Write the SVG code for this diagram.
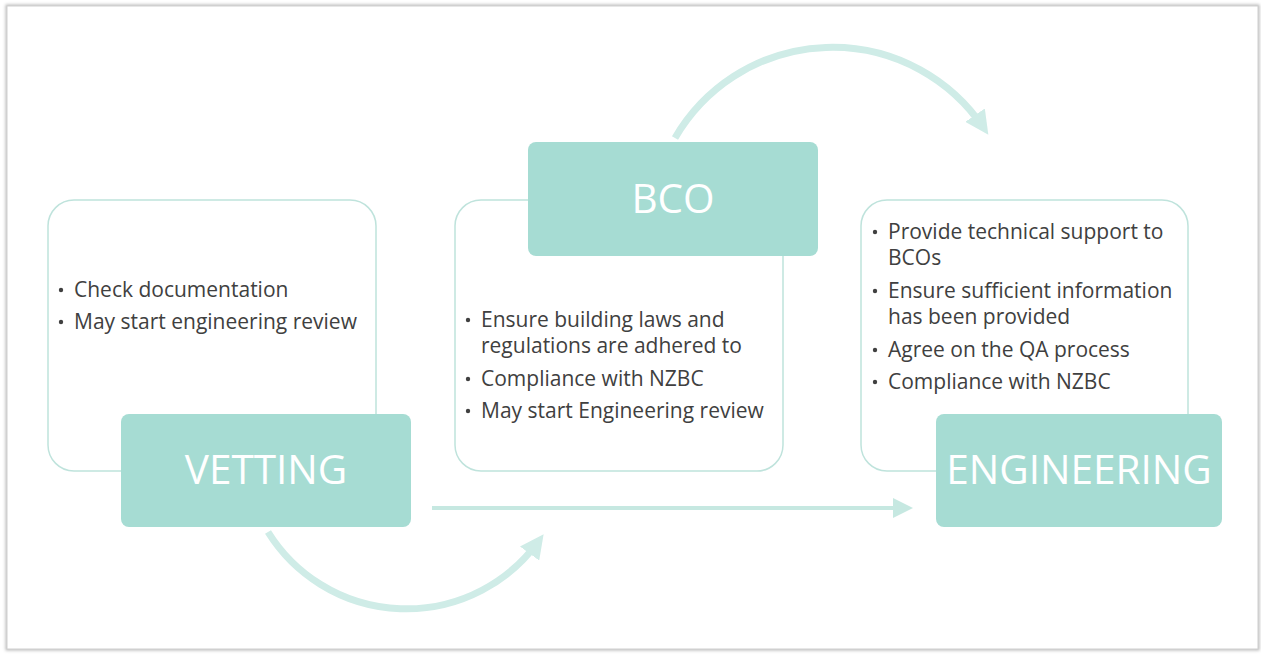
<svg xmlns="http://www.w3.org/2000/svg" width="1261" height="654" viewBox="0 0 1261 654">
  <defs>
    <style>
      .panel { fill: #ffffff; stroke: #bfe3dc; stroke-width: 1.5; }
      .head { fill: #a6dcd3; }
      .title { font-family: "Open Sans", "Noto Sans", sans-serif; fill: #ffffff; font-size: 40.5px; text-anchor: middle; }
      .item { font-family: "Open Sans", "Noto Sans", sans-serif; fill: #404040; font-size: 21px; }
      .dot { fill: #404040; }
      .flow { fill: none; stroke: #cfece7; stroke-width: 7; }
    </style>
    <marker id="tip" viewBox="0 0 10 10" refX="6" refY="5" markerWidth="3.4" markerHeight="3.4" orient="auto" markerUnits="strokeWidth">
      <path d="M0,0 L10,5 L0,10 Z" fill="#cfece7"/>
    </marker>
    <marker id="tipLine" viewBox="0 0 10 10" refX="6" refY="5" markerWidth="5" markerHeight="5" orient="auto" markerUnits="strokeWidth">
      <path d="M0,0 L10,5 L0,10 Z" fill="#c6e8e1"/>
    </marker>
    <filter id="frameShadow" x="-5%" y="-5%" width="110%" height="110%">
      <feGaussianBlur stdDeviation="1.5"/>
    </filter>
  </defs>

  <!-- page frame -->
  <rect x="0" y="0" width="1261" height="654" fill="#ffffff"/>
  <rect x="7" y="6" width="1251" height="643" fill="none" stroke="#b8b8b8" stroke-width="3" filter="url(#frameShadow)"/>
  <rect x="7" y="6" width="1251" height="643" fill="#ffffff" stroke="#cfcfcf" stroke-width="1"/>

  <!-- connectors -->
  <g id="connectors">
    <path class="flow" d="M268,532 A163,163 0 0 0 538,542" marker-end="url(#tip)"/>
    <path class="flow" d="M675,138 A182,182 0 0 1 983,127" marker-end="url(#tip)"/>
    <path fill="none" stroke="#c6e8e1" stroke-width="4" d="M432,508 L905,508" marker-end="url(#tipLine)"/>
  </g>

  <!-- VETTING -->
  <g id="vetting">
    <rect class="panel" x="48" y="200" width="328" height="271" rx="26"/>
    <circle class="dot" cx="61" cy="290" r="2.2"/>
    <text class="item" x="74" y="297">Check documentation</text>
    <circle class="dot" cx="61" cy="322" r="2.2"/>
    <text class="item" x="74" y="329">May start engineering review</text>
    <rect class="head" x="121" y="414" width="290" height="113" rx="8"/>
    <text class="title" x="266" y="484">VETTING</text>
  </g>

  <!-- BCO -->
  <g id="bco">
    <rect class="panel" x="455" y="200" width="328" height="271" rx="26"/>
    <circle class="dot" cx="468" cy="320" r="2.2"/>
    <text class="item" x="481" y="327">Ensure building laws and</text>
    <text class="item" x="481" y="353">regulations are adhered to</text>
    <circle class="dot" cx="468" cy="379" r="2.2"/>
    <text class="item" x="481" y="386">Compliance with NZBC</text>
    <circle class="dot" cx="468" cy="411" r="2.2"/>
    <text class="item" x="481" y="418">May start Engineering review</text>
    <rect class="head" x="528" y="142" width="290" height="114" rx="8"/>
    <text class="title" x="673" y="213">BCO</text>
  </g>

  <!-- ENGINEERING -->
  <g id="engineering">
    <rect class="panel" x="861" y="200" width="327" height="271" rx="26"/>
    <circle class="dot" cx="875" cy="232" r="2.2"/>
    <text class="item" x="888" y="239">Provide technical support to</text>
    <text class="item" x="888" y="265">BCOs</text>
    <circle class="dot" cx="875" cy="291" r="2.2"/>
    <text class="item" x="888" y="298">Ensure sufficient information</text>
    <text class="item" x="888" y="324">has been provided</text>
    <circle class="dot" cx="875" cy="350" r="2.2"/>
    <text class="item" x="888" y="357">Agree on the QA process</text>
    <circle class="dot" cx="875" cy="382" r="2.2"/>
    <text class="item" x="888" y="389">Compliance with NZBC</text>
    <rect class="head" x="936" y="414" width="286" height="113" rx="8"/>
    <text class="title" x="1079" y="484">ENGINEERING</text>
  </g>
</svg>
